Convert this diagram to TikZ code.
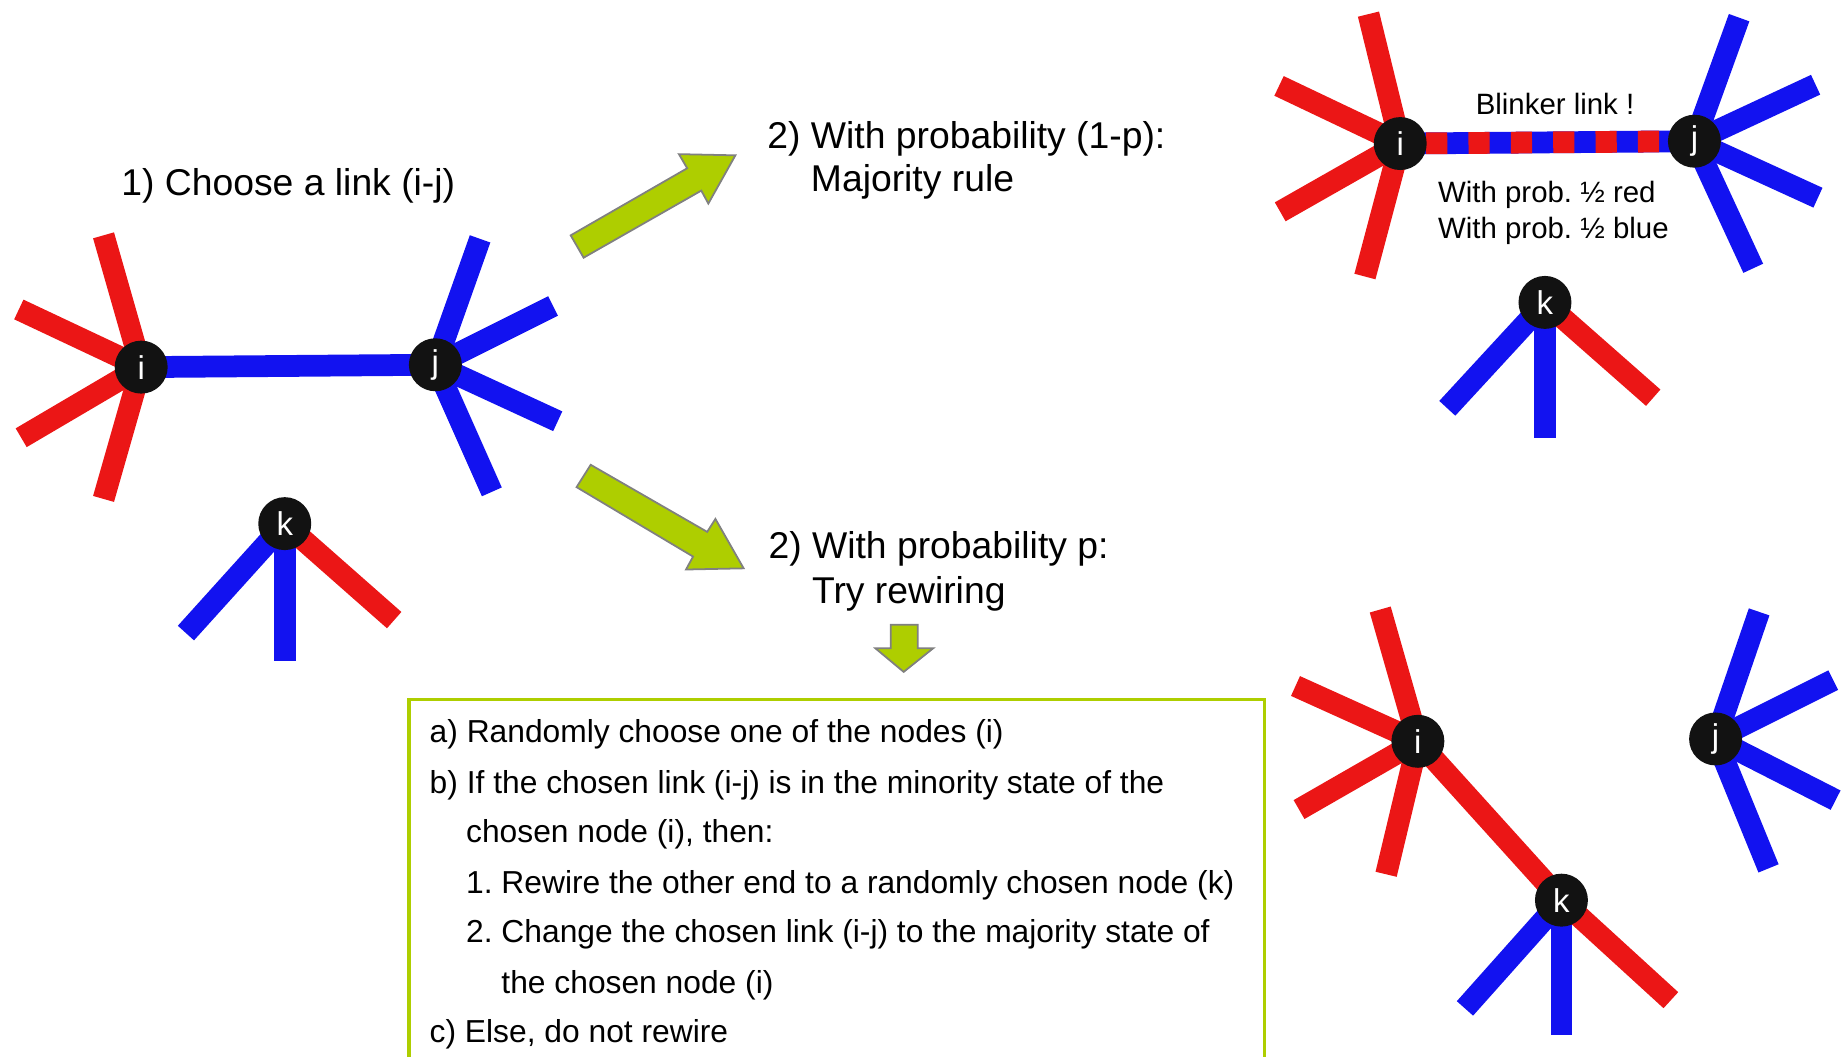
\documentclass[tikz,border=0pt]{standalone}
\usepackage{fontspec}
\setmainfont{Liberation Sans}
\frenchspacing
\pgfdeclarelayer{bg}
\pgfsetlayers{bg,main}
\definecolor{lred}{RGB}{235,22,22}
\definecolor{lblue}{RGB}{18,18,240}
\definecolor{lgreen}{RGB}{174,206,0}
\definecolor{lgray}{RGB}{128,128,128}
\tikzset{
 vert/.style={circle, fill=black!93, text=white, minimum size=45pt, inner sep=0pt, font=\fontsize{28}{28}\selectfont},
 rs/.style={draw=lred, line width=18.5pt},
 bs/.style={draw=lblue, line width=18.5pt},
 bigarrow/.style={fill=lgreen, draw=lgray, line width=1.5pt, line join=miter},
 title/.style={anchor=base west, inner sep=0pt, font=\fontsize{31.7}{36}\selectfont},
 boxtxt/.style={anchor=base west, inner sep=0pt, font=\fontsize{27}{30}\selectfont},
 smalltxt/.style={anchor=base west, inner sep=0pt, font=\fontsize{25}{28}\selectfont},
}
\begin{document}
\begin{tikzpicture}[x=1pt,y=-1pt]
\useasboundingbox (0,0) rectangle (1568,898);

% ---------- left graph ----------
\node[vert] (i1) at (120,312) {i};
\node[vert] (j1) at (370,310) {j};
\node[vert] (k1) at (242,445) {k};
\begin{pgfonlayer}{bg}
\draw[bs] (i1.center) -- (j1.center);
\foreach \xx/\yy [count=\nn] in {88/200,16/263,18/372,88/424}
  {\coordinate (la\nn) at (\xx,\yy); \draw[rs] (i1.center) -- (la\nn);}
\foreach \xx/\yy [count=\nn] in {408/203,470/260,474/358,418/418}
  {\coordinate (lb\nn) at (\xx,\yy); \draw[bs] (j1.center) -- (lb\nn);}
\coordinate (lc1) at (158,538);
\coordinate (lc2) at (242,562);
\coordinate (lc3) at (335,527);
\draw[bs] (k1.center) -- (lc1);
\draw[bs] (k1.center) -- (lc2);
\draw[rs] (k1.center) -- (lc3);
\end{pgfonlayer}
\node[title] (t1) at (103,166) {1) Choose a link (i-j)};

% ---------- arrows ----------
\draw[bigarrow] (485,200) -- (584,143) -- (577,131) -- (625,132) -- (602,173) -- (596,162) -- (496,219) -- cycle;
\draw[bigarrow] (502,395) -- (601,452) -- (608,441) -- (632,483) -- (583,484) -- (589,473) -- (490,414) -- cycle;
\draw[bigarrow] (757,531) -- (780,531) -- (780,551) -- (793,551) -- (768,571) -- (744,551) -- (757,551) -- cycle;

% ---------- titles ----------
\node[title] (t2) at (652,126) {2) With probability (1-p):};
\node[title] (t3) at (689,163) {Majority rule};
\node[title] (t4) at (653,475) {2) With probability p:};
\node[title] (t5) at (690,513) {Try rewiring};

% ---------- top right graph ----------
\node[vert] (i2) at (1190,122) {i};
\node[vert] (j2) at (1440,120) {j};
\node[vert] (k2) at (1313,257) {k};
\begin{pgfonlayer}{bg}
\draw[bs] (i2.center) -- (j2.center);
\draw[draw=lred, line width=18.5pt, dash pattern=on 18pt off 18pt, dash phase=14pt] (i2.center) -- (j2.center);
\foreach \xx/\yy [count=\nn] in {1163/12,1087/73,1088/180,1160/235}
  {\coordinate (ra\nn) at (\xx,\yy); \draw[rs] (i2.center) -- (ra\nn);}
\foreach \xx/\yy [count=\nn] in {1478/15,1543/72,1545/168,1490/228}
  {\coordinate (rb\nn) at (\xx,\yy); \draw[bs] (j2.center) -- (rb\nn);}
\coordinate (rc1) at (1230,347);
\coordinate (rc2) at (1313,372);
\coordinate (rc3) at (1405,338);
\draw[bs] (k2.center) -- (rc1);
\draw[bs] (k2.center) -- (rc2);
\draw[rs] (k2.center) -- (rc3);
\end{pgfonlayer}
\node[smalltxt] (bl) at (1254,97) {Blinker link !};
\node[smalltxt] (p1) at (1222,172) {With prob. ½ red};
\node[smalltxt] (p2) at (1222,203) {With prob. ½ blue};

% ---------- bottom right graph ----------
\node[vert] (i3) at (1205,630) {i};
\node[vert] (j3) at (1458,628) {j};
\node[vert] (k3) at (1327,765) {k};
\begin{pgfonlayer}{bg}
\draw[rs] (i3.center) -- (k3.center);
\foreach \xx/\yy [count=\nn] in {1173/518,1101/583,1104/688,1178/743}
  {\coordinate (sa\nn) at (\xx,\yy); \draw[rs] (i3.center) -- (sa\nn);}
\foreach \xx/\yy [count=\nn] in {1495/520,1558/578,1560/680,1503/738}
  {\coordinate (sb\nn) at (\xx,\yy); \draw[bs] (j3.center) -- (sb\nn);}
\coordinate (sc1) at (1245,857);
\coordinate (sc2) at (1327,880);
\coordinate (sc3) at (1420,850);
\draw[bs] (k3.center) -- (sc1);
\draw[bs] (k3.center) -- (sc2);
\draw[rs] (k3.center) -- (sc3);
\end{pgfonlayer}

% ---------- rule box ----------
\node[draw=lgreen, line width=3pt, minimum width=727pt, minimum height=330pt, anchor=north west, inner sep=0pt] (box) at (346,593) {};
\node[boxtxt] (ta) at (365,631) {a) Randomly choose one of the nodes (i)};
\node[boxtxt] (tb) at (365,674) {b) If the chosen link (i-j) is in the minority state of the};
\node[boxtxt] (tbc) at (396,716) {chosen node (i), then:};
\node[boxtxt] (t1l) at (396,759) {1. Rewire the other end to a randomly chosen node (k)};
\node[boxtxt] (t2l) at (396,801) {2. Change the chosen link (i-j) to the majority state of};
\node[boxtxt] (t3l) at (426,844) {the chosen node (i)};
\node[boxtxt] (tc) at (365,886) {c) Else, do not rewire};
\end{tikzpicture}
\end{document}
